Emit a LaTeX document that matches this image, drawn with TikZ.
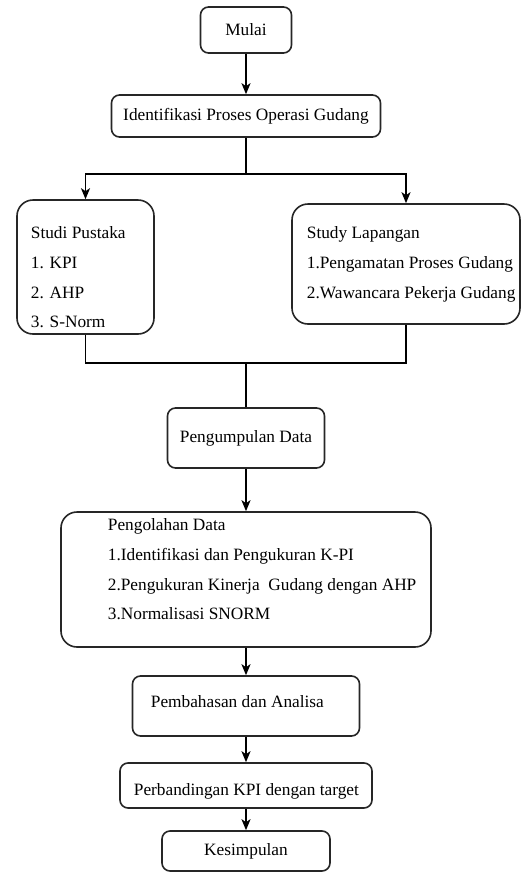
\documentclass[tikz,border=0pt]{standalone}
\usepackage{fontspec}
\setmainfont{Liberation Serif}
\usetikzlibrary{arrows.meta}

\begin{document}
\begin{tikzpicture}[x=1pt, y=-1pt, >={Stealth[length=11pt,width=9pt,inset=3pt]}, line width=1.8pt,
    font=\fontsize{17.3}{29.6}\selectfont,
    box/.style={draw=black!85, rounded corners=8pt, line width=1.6pt, inner sep=0pt},
    bigbox/.style={box, rounded corners=16pt},
    txt/.style={inner sep=0pt, align=left, anchor=north west}]
    \useasboundingbox (0,0) rectangle (521,873);

    % Nodes {mulai, ident, pustaka, lapangan, kumpul, olah, bahas, banding, simpul}
    \node [box, minimum width=91pt, minimum height=46pt]     (mulai)    at (246,30)    {Mulai};
    \node [box, minimum width=269pt, minimum height=42pt]    (ident)    at (246,116)   {Identifikasi Proses Operasi Gudang};
    \node [bigbox, minimum width=137pt, minimum height=134pt] (pustaka) at (85.5,267)  {};
    \node [bigbox, minimum width=228pt, minimum height=120pt] (lapangan) at (406,264)  {};
    \node [box, minimum width=157pt, minimum height=60pt]    (kumpul)   at (246,438)   {Pengumpulan Data};
    \node [bigbox, minimum width=370pt, minimum height=135pt] (olah)    at (246,579.5) {};
    \node [box, minimum width=227pt, minimum height=60pt]    (bahas)    at (246,706)   {};
    \node [box, minimum width=252pt, minimum height=45pt]    (banding)  at (246,785.5) {};
    \node [box, minimum width=168pt, minimum height=40pt]    (simpul)   at (246,851)   {Kesimpulan};

    % Texts in the boxes
    \node [txt] (pustaka-txt)  at (30,226)  {Studi Pustaka\\1. KPI\\2. AHP\\3. S-Norm};
    \node [txt] (lapangan-txt) at (306,226) {Study Lapangan\\1.Pengamatan Proses Gudang\\2.Wawancara Pekerja Gudang};
    \node [txt] (olah-txt)     at (107,518) {Pengolahan Data\\1.Identifikasi dan Pengukuran K-PI\\2.Pengukuran Kinerja\ \ Gudang dengan AHP\\3.Normalisasi SNORM};
    \node [txt, anchor=base west] (bahas-txt)   at (150,707) {Pembahasan dan Analisa};
    \node [txt, anchor=base west] (banding-txt) at (133,795) {Perbandingan KPI dengan target};

    % Branch points
    \coordinate (cabang) at (246,174);
    \coordinate (gabung) at (246,363);

    % Paths
    \path [->]  (mulai) edge (ident);
    \draw       (ident) -- (cabang);
    \draw [->]  (cabang) -| (pustaka.north);
    \draw [->]  (cabang) -| (lapangan.north);
    \draw       (pustaka.south) |- (gabung);
    \draw       (lapangan.south) |- (gabung);
    \draw       (gabung) -- (kumpul);
    \path [->]  (kumpul) edge (olah);
    \path [->]  (olah) edge (bahas);
    \path [->]  (bahas) edge (banding);
    \path [->]  (banding) edge (simpul);

\end{tikzpicture}
\end{document}
